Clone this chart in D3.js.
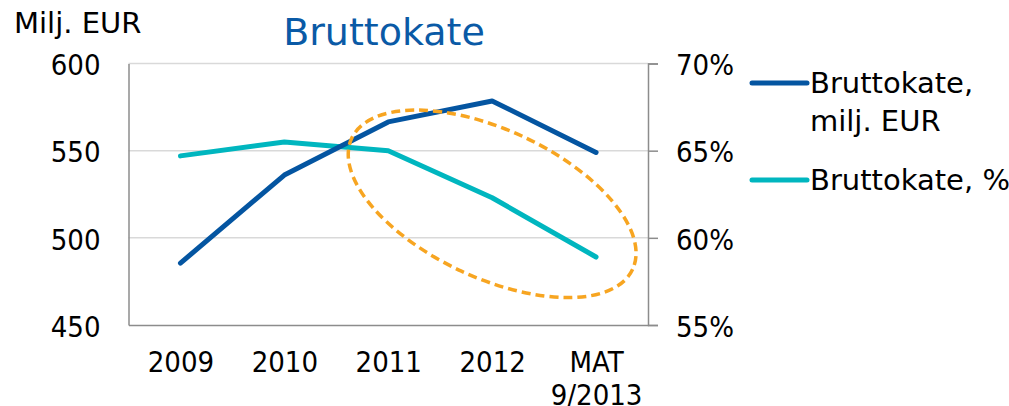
<!DOCTYPE html>
<html>
<head>
<meta charset="utf-8">
<script src="https://cdn.jsdelivr.net/npm/d3@7"></script>
<style>
  body { margin: 0; background: #fff; }
  svg text { font-family: "DejaVu Sans Condensed", "DejaVu Sans", sans-serif; fill: #000; }
  svg text.wide { font-family: "DejaVu Sans", sans-serif; }
</style>
</head>
<body>
<div id="chart"></div>
<script>
// data
const categories = ['2009', '2010', '2011', '2012', 'MAT\n9/2013']
const grossMarginEur = [485.5, 536, 566.5, 578.5, 549]
const grossMarginPct = [0.647, 0.655, 0.650, 0.623, 0.589]
const leftTicks = [450, 500, 550, 600]
const rightTicks = [0.55, 0.60, 0.65, 0.70]
const seriesNames = [['Bruttokate,', 'milj. EUR'], ['Bruttokate, %']]
// dashed ring: centre in data units (category + left axis value)
const ring = { category: '2012', value: 519.5 }

const width = 1009, height = 406
const margin = { top: 63.5, right: 361, bottom: 81, left: 128.5 }
const innerW = width - margin.left - margin.right
const innerH = height - margin.top - margin.bottom

const DARK = '#0455a1', TEAL = '#00b6bf', ORANGE = '#f7a521'
const AXIS = '#8c8c8c', GRID = '#d9d9d9'
const FONT = 29   // numbers (condensed)
const LABEL = 29  // words (regular width)

const AppendG = (parent, left, top, className = '') => {
  return parent.append('g')
    .attr('transform', 'translate(' + left + ',' + top + ')')
    .attr('class', className)
}

const svg = d3.select('#chart').append('svg')
  .attr('width', width)
  .attr('height', height)

const rootG = AppendG(svg, margin.left, margin.top, 'root')

const x = d3.scalePoint().domain(categories).range([0, innerW]).padding(0.5)
const yL = d3.scaleLinear().domain([450, 600]).range([innerH, 0])
const yR = d3.scaleLinear().domain([0.55, 0.70]).range([innerH, 0])

// gridlines
rootG.append('g').selectAll('line')
  .data(leftTicks.filter(d => d > 450))
  .join('line')
  .attr('x1', 0).attr('x2', innerW)
  .attr('y1', d => yL(d)).attr('y2', d => yL(d))
  .attr('stroke', GRID).attr('stroke-width', 1.5)

// left axis, no tick marks
const leftAxis = AppendG(rootG, 0, 0, 'y axis left')
  .call(d3.axisLeft(yL).tickValues(leftTicks).tickSize(0).tickPadding(28))
leftAxis.select('.domain').attr('stroke', AXIS).attr('stroke-width', 1.5)
leftAxis.selectAll('text').attr('font-size', FONT).attr('dy', '0.39em')

// right axis with outer ticks
const rightAxis = AppendG(rootG, innerW, 0, 'y axis right')
  .call(d3.axisRight(yR).tickValues(rightTicks).tickSize(10).tickSizeOuter(10).tickPadding(18)
    .tickFormat(d3.format('.0%')))
rightAxis.select('.domain').attr('stroke', AXIS).attr('stroke-width', 1.5)
rightAxis.selectAll('.tick line').attr('stroke', AXIS).attr('stroke-width', 1.5)
rightAxis.selectAll('text').attr('font-size', FONT).attr('dy', '0.39em')

// bottom axis, labels may wrap (second line sits on the bottom edge, as in the source)
const bottomAxis = AppendG(rootG, 0, innerH, 'x axis')
  .call(d3.axisBottom(x).tickSize(0).tickPadding(0).tickFormat(''))
bottomAxis.select('.domain').attr('stroke', AXIS).attr('stroke-width', 1.5)
bottomAxis.selectAll('.tick').each(function (d) {
  const t = d3.select(this).append('text')
    .attr('text-anchor', 'middle')
    .attr('font-size', FONT)
    .attr('fill', '#000')
  d.split('\n').forEach((s, i) => {
    t.append('tspan').attr('x', 0).attr('y', 46.5 + i * 33.5).text(s)
  })
})

// lines
const lineL = d3.line().x((d, i) => x(categories[i])).y(d => yL(d))
const lineR = d3.line().x((d, i) => x(categories[i])).y(d => yR(d))

rootG.append('path').datum(grossMarginPct)
  .attr('d', lineR)
  .attr('fill', 'none').attr('stroke', TEAL).attr('stroke-width', 5)
  .attr('stroke-linecap', 'round').attr('stroke-linejoin', 'round')

rootG.append('path').datum(grossMarginEur)
  .attr('d', lineL)
  .attr('fill', 'none').attr('stroke', DARK).attr('stroke-width', 5)
  .attr('stroke-linecap', 'round').attr('stroke-linejoin', 'round')

// dashed ellipse highlight
rootG.append('ellipse')
  .attr('transform', 'translate(' + x(ring.category) + ',' + yL(ring.value) + ') rotate(25)')
  .attr('rx', 155).attr('ry', 74)
  .attr('fill', 'none').attr('stroke', ORANGE).attr('stroke-width', 3.5)
  .attr('stroke-dasharray', '9 5')

// title + unit
svg.append('text')
  .attr('class', 'wide')
  .attr('x', 384).attr('y', 45)
  .attr('text-anchor', 'middle')
  .attr('font-size', 38)
  .style('fill', '#0a5aa6')
  .text('Bruttokate')

svg.append('text')
  .attr('class', 'wide')
  .attr('x', 14).attr('y', 33)
  .attr('font-size', LABEL)
  .text('Milj. EUR')

// legend
const legendG = AppendG(svg, 752, 83, 'legend')
const colors = [DARK, TEAL]
seriesNames.forEach((lines, i) => {
  const g = AppendG(legendG, 0, i * 97)
  g.append('line')
    .attr('x1', 0).attr('x2', 55)
    .attr('stroke', colors[i]).attr('stroke-width', 5)
    .attr('stroke-linecap', 'round')
  const t = g.append('text').attr('class', 'wide').attr('font-size', LABEL)
  lines.forEach((s, j) => {
    t.append('tspan').attr('x', 58).attr('y', 10 + j * 37.5).text(s)
  })
})
</script>
</body>
</html>
